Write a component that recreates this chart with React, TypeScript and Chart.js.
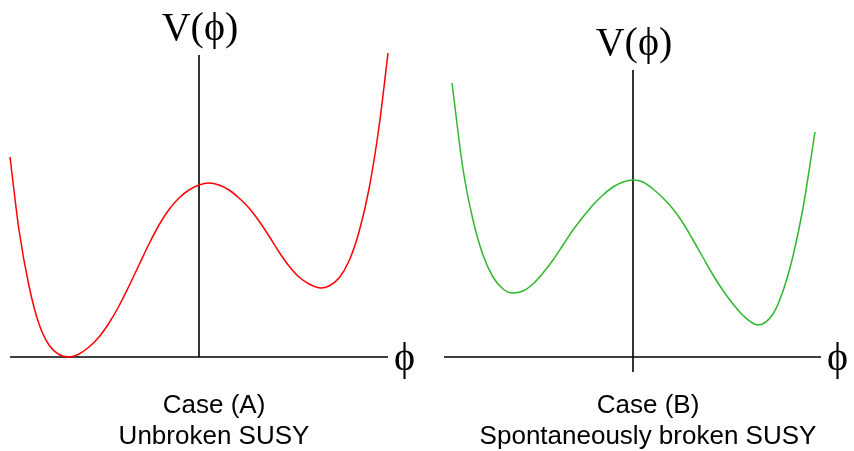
import React, { useEffect, useRef } from "react";
import { Chart, registerables } from "chart.js";

Chart.register(...registerables);

// Case (A): unbroken SUSY (phi, V)
const PHI_A = [-1.89, -1.8, -1.7, -1.6, -1.5, -1.4, -1.3, -1.2, -1.1, -1.0, -0.9, -0.8, -0.7, -0.6, -0.5, -0.4, -0.3, -0.2, -0.1, 0.0, 0.1, 0.2, 0.3, 0.4, 0.5, 0.6, 0.7, 0.8, 0.9, 1.0, 1.1, 1.22, 1.3, 1.4, 1.5, 1.6, 1.7, 1.8, 1.89];
const V_A = [2.0, 1.27, 0.71, 0.33, 0.12, 0.025, 0.0, 0.03, 0.1, 0.2, 0.34, 0.51, 0.71, 0.92, 1.13, 1.32, 1.475, 1.59, 1.67, 1.72, 1.74, 1.72, 1.67, 1.59, 1.49, 1.36, 1.21, 1.05, 0.91, 0.8, 0.73, 0.69, 0.71, 0.79, 0.96, 1.25, 1.68, 2.3, 3.04];

// Case (B): spontaneously broken SUSY (phi, V)
const PHI_B = [-1.81, -1.7, -1.6, -1.5, -1.4, -1.3, -1.2, -1.1, -1.0, -0.9, -0.8, -0.7, -0.6, -0.5, -0.4, -0.3, -0.2, -0.1, 0.0, 0.1, 0.2, 0.3, 0.4, 0.5, 0.6, 0.7, 0.8, 0.9, 1.0, 1.1, 1.25, 1.4, 1.5, 1.6, 1.7, 1.82];
const V_B = [2.74, 1.88, 1.37, 1.02, 0.8, 0.68, 0.64, 0.66, 0.73, 0.84, 0.97, 1.12, 1.27, 1.4, 1.52, 1.62, 1.7, 1.75, 1.77, 1.75, 1.68, 1.59, 1.48, 1.34, 1.17, 0.995, 0.82, 0.665, 0.53, 0.415, 0.32, 0.43, 0.66, 1.01, 1.49, 2.25];

// axis extents (phi range of horizontal axis, V range of vertical axis)
const AXIS_PHI_A = [-1.89, 1.89];
const AXIS_V_A = [0, 3.02];
const AXIS_PHI_B = [-1.89, 1.88];
const AXIS_V_B = [-0.15, 2.87];

const Y_LABEL = "V(\u03d5)";
const X_LABEL = "\u03d5";
const CAPTION_A = ["Case (A)", "Unbroken SUSY"];
const CAPTION_B = ["Case (B)", "Spontaneously broken SUSY"];

type PanelProps = {
  phi: number[];
  v: number[];
  color: string;
  axisPhi: number[];
  axisV: number[];
  caption: string[];
  xMin: number;
  xMax: number;
  left: number;
};

function Panel({ phi, v, color, axisPhi, axisV, caption, xMin, xMax, left }: PanelProps) {
  const ref = useRef<HTMLCanvasElement | null>(null);
  useEffect(() => {
    if (!ref.current) return;
    const labelPlugin = {
      id: "labels",
      afterDatasetsDraw(chart: any) {
        const ctx = chart.ctx;
        const xs = chart.scales.x;
        const ys = chart.scales.y;
        const x0 = xs.getPixelForValue(0);
        const yTop = ys.getPixelForValue(axisV[1]);
        const yAxis = ys.getPixelForValue(0);
        const xEnd = xs.getPixelForValue(axisPhi[1]);
        ctx.save();
        ctx.fillStyle = "#000";
        ctx.font = '40px "Liberation Serif", "DejaVu Serif", serif';
        ctx.textAlign = "center";
        ctx.textBaseline = "alphabetic";
        ctx.fillText(Y_LABEL, x0 + 1, yTop - 15);
        ctx.textAlign = "left";
        ctx.fillText(X_LABEL, xEnd + 6, yAxis + 13);
        ctx.font = '26px "Liberation Sans", Arial, sans-serif';
        ctx.textAlign = "center";
        ctx.fillText(caption[0], x0 + 15, 413);
        ctx.fillText(caption[1], x0 + 15, 444);
        ctx.restore();
      },
    };
    const chart = new Chart(ref.current, {
      type: "line",
      data: {
        datasets: [
          {
            data: phi.map((p, i) => ({ x: p, y: v[i] })),
            borderColor: color,
            borderWidth: 1.5,
            pointRadius: 0,
            cubicInterpolationMode: "monotone",
            fill: false,
          },
          {
            data: [
              { x: axisPhi[0], y: 0 },
              { x: axisPhi[1], y: 0 },
            ],
            borderColor: "#000",
            borderWidth: 1.6,
            pointRadius: 0,
            tension: 0,
          },
          {
            data: [
              { x: 0, y: axisV[0] },
              { x: 0, y: axisV[1] },
            ],
            borderColor: "#000",
            borderWidth: 1.6,
            pointRadius: 0,
            tension: 0,
          },
        ],
      },
      options: {
        responsive: false,
        animation: false,
        layout: { padding: 0 },
        plugins: { legend: { display: false }, tooltip: { enabled: false } },
        events: [],
        scales: {
          x: { type: "linear", min: xMin, max: xMax, display: false },
          y: { type: "linear", min: -0.94, max: 3.57, display: false },
        },
      },
      plugins: [labelPlugin],
    } as any);
    return () => chart.destroy();
  }, []);
  return (
    <canvas
      ref={ref}
      width={427}
      height={451}
      style={{ position: "absolute", left, top: 0, width: 427, height: 451, display: "block" }}
    />
  );
}

export default function App() {
  return (
    <div style={{ position: "fixed", left: 0, top: 0, width: 854, height: 451, background: "#fff" }}>
      <Panel phi={PHI_A} v={V_A} color="#ff0000" axisPhi={AXIS_PHI_A} axisV={AXIS_V_A} caption={CAPTION_A} xMin={-1.99} xMax={2.28} left={0} />
      <Panel phi={PHI_B} v={V_B} color="#2eb82e" axisPhi={AXIS_PHI_B} axisV={AXIS_V_B} caption={CAPTION_B} xMin={-2.06} xMax={2.21} left={427} />
    </div>
  );
}
